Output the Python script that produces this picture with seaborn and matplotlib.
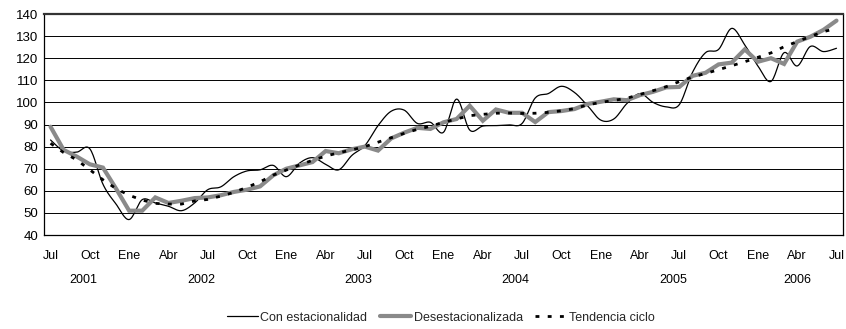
import numpy as np
import pandas as pd
import matplotlib
matplotlib.use("Agg")
import matplotlib.pyplot as plt
import seaborn as sns
from matplotlib.lines import Line2D
from matplotlib.transforms import blended_transform_factory

# Monthly index, Jul 2001 - Jul 2006
fechas = pd.date_range("2001-07-01", periods=61, freq="MS")

con_estacionalidad = [
    83, 78, 77.5, 79, 63, 54, 47, 56, 54.5, 53, 51, 54.5,
    60.5, 61.8, 66.4, 69, 69.5, 71.5, 66.4, 72.5, 75, 72, 69.5, 76,
    80.5, 89.5, 96, 96.5, 90.5, 91, 86.5, 101.5, 87.5, 89.3, 89.5, 89.8,
    90.5, 102, 104, 107.3, 104.5, 98.5, 92, 92.5, 99.5, 104, 100, 98,
    99, 113.5, 122.5, 124, 133.5, 126, 116.5, 109.5, 122.5, 116.5, 125.3, 123,
    124.5,
]
desestacionalizada = [
    89, 78.5, 75.5, 72, 70.5, 61, 51, 51, 57, 54.5, 55.5, 56.7,
    57, 58, 59.5, 60.5, 62, 67, 70, 71.5, 73, 78, 77, 78.8,
    80, 78.2, 83.7, 86.3, 88.5, 88, 91, 92.5, 98.5, 91.7, 96.8, 95.3,
    95.3, 91.1, 95.6, 96.1, 97, 99.3, 100.3, 101.4, 101, 103.3, 104.8, 106.8,
    107, 112, 113.4, 117.2, 118, 124, 118.4, 120, 117.4, 127.5, 129.7, 132.8,
    137,
]
tendencia_ciclo = [
    81.5, 77.3, 74, 69.5, 65, 61, 58, 55.8, 54.3, 54, 54, 55.4,
    56.1, 57.6, 59.3, 61.6, 64.1, 67.1, 69.4, 71.7, 73.8, 75.7, 77.2, 78.5,
    80, 82, 84, 86, 87.8, 89.2, 91, 92.5, 94, 94.6, 95.1, 95.2,
    95, 95.1, 95.5, 96.2, 97.2, 98.9, 100, 100.9, 101.9, 103.6, 105.3, 107.1,
    109.4, 111.5, 113.1, 114.8, 116.6, 118.4, 120.4, 122.4, 125.2, 127.5, 129.8, 132,
    133.5,
]

meses_etiqueta = ["Ene", "Feb", "Mar", "Abr", "May", "Jun",
                  "Jul", "Ago", "Sep", "Oct", "Nov", "Dic"]
series_nombres = ["Con estacionalidad", "Desestacionalizada", "Tendencia ciclo"]

idx = np.arange(len(fechas))
df = pd.DataFrame({
    "i": np.tile(idx, 3),
    "valor": con_estacionalidad + desestacionalizada + tendencia_ciclo,
    "serie": np.repeat(series_nombres, len(idx)),
})


def suavizar(x, y, pasos=16):
    """Smoothed curve through the points (cubic Bezier, Catmull-Rom tangents)."""
    x = np.asarray(x, float)
    y = np.asarray(y, float)
    n = len(x)
    xs, ys = [x[0]], [y[0]]
    t = np.linspace(0, 1, pasos + 1)[1:]
    for k in range(n - 1):
        p0 = np.array([x[max(k - 1, 0)], y[max(k - 1, 0)]])
        p1 = np.array([x[k], y[k]])
        p2 = np.array([x[k + 1], y[k + 1]])
        p3 = np.array([x[min(k + 2, n - 1)], y[min(k + 2, n - 1)]])
        c1 = p1 + (p2 - p0) / 6.0
        c2 = p2 - (p3 - p1) / 6.0
        b = ((1 - t) ** 3)[:, None] * p1 + (3 * (1 - t) ** 2 * t)[:, None] * c1 \
            + (3 * (1 - t) * t ** 2)[:, None] * c2 + (t ** 3)[:, None] * p2
        xs.extend(b[:, 0])
        ys.extend(b[:, 1])
    return np.array(xs), np.array(ys)


sns.set_theme(style="white")
plt.rcParams["font.family"] = ["Liberation Sans", "DejaVu Sans"]

fig, ax = plt.subplots(figsize=(8.46, 3.29), dpi=100)
fig.subplots_adjust(left=0.052, right=0.9965, top=0.9574, bottom=0.2857)

gris = "#8a8a8a"

# Original series: smoothed thin black line
d1 = df[df["serie"] == series_nombres[0]]
sx, sy = suavizar(d1["i"], d1["valor"])
sns.lineplot(x=sx, y=sy, ax=ax, color="black", lw=0.9, sort=False,
             estimator=None)

# Seasonally adjusted: thick grey line
d2 = df[df["serie"] == series_nombres[1]]
sns.lineplot(data=d2, x="i", y="valor", ax=ax, color=gris, lw=3.0,
             estimator=None, solid_joinstyle="miter")

# Trend-cycle: black square dots
d3 = df[df["serie"] == series_nombres[2]]
sns.lineplot(data=d3, x="i", y="valor", ax=ax, color="black", lw=2.0,
             estimator=None, dashes=False)
ax.lines[-1].set_dashes((1.4, 3.0))
ax.lines[-1].set_dash_capstyle("butt")

ax.set_xlim(-0.5, 60.5)
ax.set_ylim(40, 140)
ax.set_yticks(np.arange(40, 141, 10))
ax.yaxis.grid(True, color="black", lw=0.7)
ax.set_axisbelow(True)

tick_pos = idx[::3]
ax.set_xticks(tick_pos)
ax.set_xticklabels([meses_etiqueta[fechas[p].month - 1] for p in tick_pos])
ax.tick_params(axis="x", length=0, pad=11, labelsize=9, colors="black")
ax.tick_params(axis="y", length=0, pad=4, labelsize=9.5, colors="black")
ax.set_xlabel("")
ax.set_ylabel("")

for s in ax.spines.values():
    s.set_visible(True)
    s.set_color("black")
    s.set_linewidth(0.9)
ax.spines["top"].set_color("#333333")
ax.spines["top"].set_linewidth(1.6)

# Year labels centred under the months of each year
trans = blended_transform_factory(ax.transData, ax.transAxes)
anios = pd.Series(idx, index=fechas.year)
for anio in sorted(set(fechas.year)):
    meses = anios.loc[anio]
    centro = (meses.min() + meses.max()) / 2.0
    ax.text(centro, -0.205, str(anio), transform=trans, ha="center",
            va="center", fontsize=9, color="black")

handles = [
    Line2D([], [], color="black", lw=0.9),
    Line2D([], [], color=gris, lw=3.0),
    Line2D([], [], color="black", lw=2.0, dashes=(1.4, 3.0), dash_capstyle="butt"),
]
fig.legend(handles, series_nombres, loc="center", bbox_to_anchor=(0.521, 0.034),
           ncol=3, frameon=False, fontsize=9, handlelength=2.5,
           handletextpad=0.2, columnspacing=1.0)

fig.savefig("out.png", dpi=100)
